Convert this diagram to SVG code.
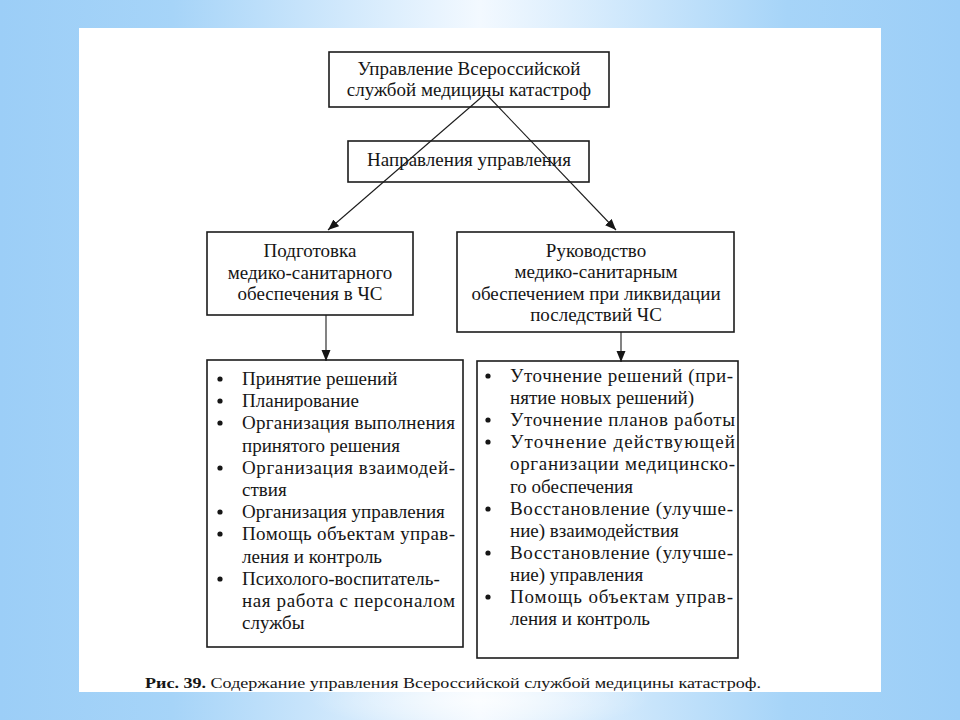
<svg xmlns="http://www.w3.org/2000/svg" width="960" height="720" viewBox="0 0 960 720">
<defs>
<linearGradient id="bg" x1="0" y1="0" x2="1" y2="0">
<stop offset="0" stop-color="#9ccef7"/>
<stop offset="0.18" stop-color="#a6d4f8"/>
<stop offset="0.5" stop-color="#f3f9ff"/>
<stop offset="0.82" stop-color="#a6d4f8"/>
<stop offset="1" stop-color="#9ccef7"/>
</linearGradient>
<radialGradient id="glow" cx="0.5" cy="0.5" r="0.5">
<stop offset="0" stop-color="#ffffff" stop-opacity="0.7"/>
<stop offset="1" stop-color="#ffffff" stop-opacity="0"/>
</radialGradient>
<marker id="ah" markerUnits="userSpaceOnUse" markerWidth="12" markerHeight="10" refX="11" refY="4.5" orient="auto">
<path d="M0,0 L11,4.5 L0,9 Z" fill="#161616"/>
</marker>
<style>
.box{fill:#ffffff;stroke:#1c1c1c;stroke-width:1.6}
.t{font-size:19px;fill:#161616}
.c{text-anchor:middle}
.ln{stroke:#1c1c1c;stroke-width:1.1;fill:none}
.b{fill:#161616}
.cap{font-size:15px;fill:#161616}
</style>
</defs>
<rect x="0" y="0" width="960" height="720" fill="url(#bg)"/>
<ellipse cx="480" cy="700" rx="170" ry="30" fill="url(#glow)"/>
<rect x="79" y="28" width="802" height="664" fill="#ffffff"/>

<g font-family="'Liberation Serif', Tinos, 'Times New Roman', 'DejaVu Serif', serif">
<g id="node-top">
<rect class="box" x="329" y="52" width="280" height="55"/>
<text class="t c" x="469" y="75">Управление Всероссийской</text>
<text class="t c" x="469" y="96">службой медицины катастроф</text>
</g>

<g id="node-directions">
<rect class="box" x="348" y="141" width="241" height="41"/>
<text class="t c" x="469" y="166">Направления управления</text>
</g>

<g id="node-prep">
<rect class="box" x="207" y="232" width="206" height="83"/>
<text class="t c" x="310" y="257">Подготовка</text>
<text class="t c" x="310" y="279">медико-санитарного</text>
<text class="t c" x="310" y="300">обеспечения в ЧС</text>
</g>

<g id="node-lead">
<rect class="box" x="457" y="232" width="277" height="100"/>
<text class="t c" x="596" y="257">Руководство</text>
<text class="t c" x="596" y="278">медико-санитарным</text>
<text class="t c" x="596" y="300">обеспечением при ликвидации</text>
<text class="t c" x="596" y="321">последствий ЧС</text>
</g>

<g id="node-list-left">
<rect class="box" x="207" y="360" width="256" height="287"/>
<circle class="b" cx="220" cy="379" r="2.6"/>
<circle class="b" cx="220" cy="401" r="2.6"/>
<circle class="b" cx="220" cy="423" r="2.6"/>
<circle class="b" cx="220" cy="468" r="2.6"/>
<circle class="b" cx="220" cy="512" r="2.6"/>
<circle class="b" cx="220" cy="534" r="2.6"/>
<circle class="b" cx="220" cy="579" r="2.6"/>
<text class="t" x="242" y="385">Принятие решений</text>
<text class="t" x="242" y="407">Планирование</text>
<text class="t" x="242" y="429" textLength="213" lengthAdjust="spacing">Организация выполнения</text>
<text class="t" x="242" y="452">принятого решения</text>
<text class="t" x="242" y="474" textLength="213" lengthAdjust="spacing">Организация взаимодей-</text>
<text class="t" x="242" y="496">ствия</text>
<text class="t" x="242" y="518">Организация управления</text>
<text class="t" x="242" y="540" textLength="213" lengthAdjust="spacing">Помощь объектам управ-</text>
<text class="t" x="242" y="563">ления и контроль</text>
<text class="t" x="242" y="585">Психолого-воспитатель-</text>
<text class="t" x="242" y="607" textLength="213" lengthAdjust="spacing">ная работа с персоналом</text>
<text class="t" x="242" y="629">службы</text>
</g>

<g id="node-list-right">
<rect class="box" x="477" y="361" width="261" height="297"/>
<circle class="b" cx="488" cy="376" r="2.6"/>
<circle class="b" cx="488" cy="420" r="2.6"/>
<circle class="b" cx="488" cy="442" r="2.6"/>
<circle class="b" cx="488" cy="509" r="2.6"/>
<circle class="b" cx="488" cy="553" r="2.6"/>
<circle class="b" cx="488" cy="597" r="2.6"/>
<text class="t" x="510" y="382" textLength="223" lengthAdjust="spacing">Уточнение решений (при-</text>
<text class="t" x="510" y="404">нятие новых решений)</text>
<text class="t" x="510" y="426" textLength="225" lengthAdjust="spacing">Уточнение планов работы</text>
<text class="t" x="510" y="448" textLength="225" lengthAdjust="spacing">Уточнение действующей</text>
<text class="t" x="510" y="470" textLength="225" lengthAdjust="spacing">организации медицинско-</text>
<text class="t" x="510" y="493">го обеспечения</text>
<text class="t" x="510" y="515" textLength="223" lengthAdjust="spacing">Восстановление (улучше-</text>
<text class="t" x="510" y="537">ние) взаимодействия</text>
<text class="t" x="510" y="559" textLength="223" lengthAdjust="spacing">Восстановление (улучше-</text>
<text class="t" x="510" y="581">ние) управления</text>
<text class="t" x="510" y="603" textLength="223" lengthAdjust="spacing">Помощь объектам управ-</text>
<text class="t" x="510" y="625">ления и контроль</text>
</g>

<text class="cap" x="145" y="688" textLength="616" lengthAdjust="spacingAndGlyphs"><tspan font-weight="bold">Рис. 39.</tspan> Содержание управления Всероссийской службой медицины катастроф.</text>
</g>

<g id="connectors">
<path class="ln" d="M484,95 L328,230" marker-end="url(#ah)"/>
<path class="ln" d="M487,95 L616,230" marker-end="url(#ah)"/>
<path class="ln" d="M326,315 L326,361" marker-end="url(#ah)"/>
<path class="ln" d="M621,332 L621,362" marker-end="url(#ah)"/>
</g>
</svg>
